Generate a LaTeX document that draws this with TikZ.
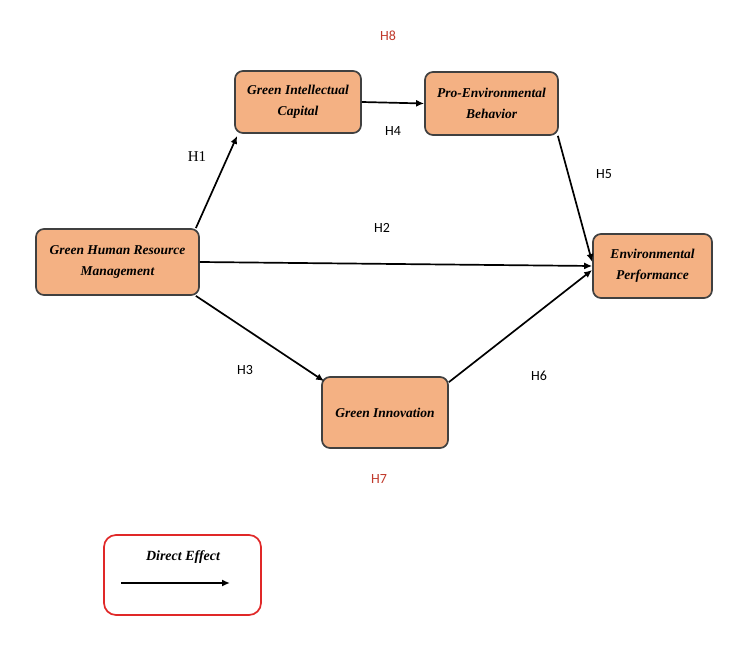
\documentclass[tikz,border=0pt]{standalone}
\usepackage{fontspec}
\usepackage{xcolor}
\setmainfont{Liberation Serif}
\newfontfamily\hfont{Carlito}
\usetikzlibrary{arrows.meta}
\definecolor{boxfill}{HTML}{F4B183}
\definecolor{boxline}{HTML}{404040}
\definecolor{hred}{HTML}{C0392B}
\definecolor{legendred}{HTML}{E02828}
\tikzstyle{construct}=[draw=boxline, fill=boxfill, line width=1.7pt, rounded corners=8pt, align=center, font=\fontsize{13.5}{21}\selectfont\bfseries\itshape, inner sep=0pt]
\tikzstyle{edge}=[line width=1.7pt, -{Latex[length=8pt,width=7pt]}]
\tikzstyle{hyp}=[font=\hfont\fontsize{14}{16}\selectfont]

\begin{document}
\begin{tikzpicture}[x=1pt, y=-1pt]
            \useasboundingbox (0,0) rectangle (750,650);
            \node[construct, minimum width=163pt, minimum height=66pt] (ghrm) at (117.5,262) {Green Human Resource\\Management};
            \node[construct, minimum width=126pt, minimum height=62pt] (gic) at (298,102) {Green Intellectual\\Capital};
            \node[construct, minimum width=133pt, minimum height=63pt] (peb) at (491.5,103.5) {Pro-Environmental\\Behavior};
            \node[construct, minimum width=119pt, minimum height=64pt] (ep) at (652.5,266) {Environmental\\Performance};
            \node[construct, minimum width=126pt, minimum height=71pt] (gi) at (385,412.5) {Green Innovation};
            % arrows
            \draw[edge] ([xshift=-4pt]ghrm.north east) -- ([xshift=3pt,yshift=-2pt]gic.south west);
            \draw[edge] (gic.east) -- (peb.west);
            \draw[edge] (ghrm.east) -- (ep.west);
            \draw[edge] ([xshift=-1pt]peb.south east) -- ([yshift=4pt]ep.west);
            \draw[edge] ([xshift=-4pt]ghrm.south east) -- ([xshift=3pt,yshift=-5pt]gi.north west);
            \draw[edge] ([yshift=-6pt]gi.north east) -- ([yshift=-4pt]ep.west);
            % hypotheses
            \node[hyp, text=hred] (h8) at (388,36) {H8};
            \node[font=\fontsize{15}{17}\selectfont] (h1) at (197,157) {H1};
            \node[hyp] (h4) at (393,131) {H4};
            \node[hyp] (h5) at (604,174) {H5};
            \node[hyp] (h2) at (382,228) {H2};
            \node[hyp] (h3) at (245,370) {H3};
            \node[hyp] (h6) at (539,376) {H6};
            \node[hyp, text=hred] (h7) at (379,479) {H7};
            % legend
            \node[draw=legendred, line width=1.7pt, rounded corners=12pt, minimum width=157pt, minimum height=80pt] (legend) at (182.5,575) {};
            \node[font=\fontsize{14}{16}\selectfont\bfseries\itshape] (legtext) at (183,557) {Direct Effect};
            \coordinate (lega) at (121,583);
            \coordinate (legb) at (230,583);
            \draw[edge] (lega) -- (legb);
\end{tikzpicture}
\end{document}
